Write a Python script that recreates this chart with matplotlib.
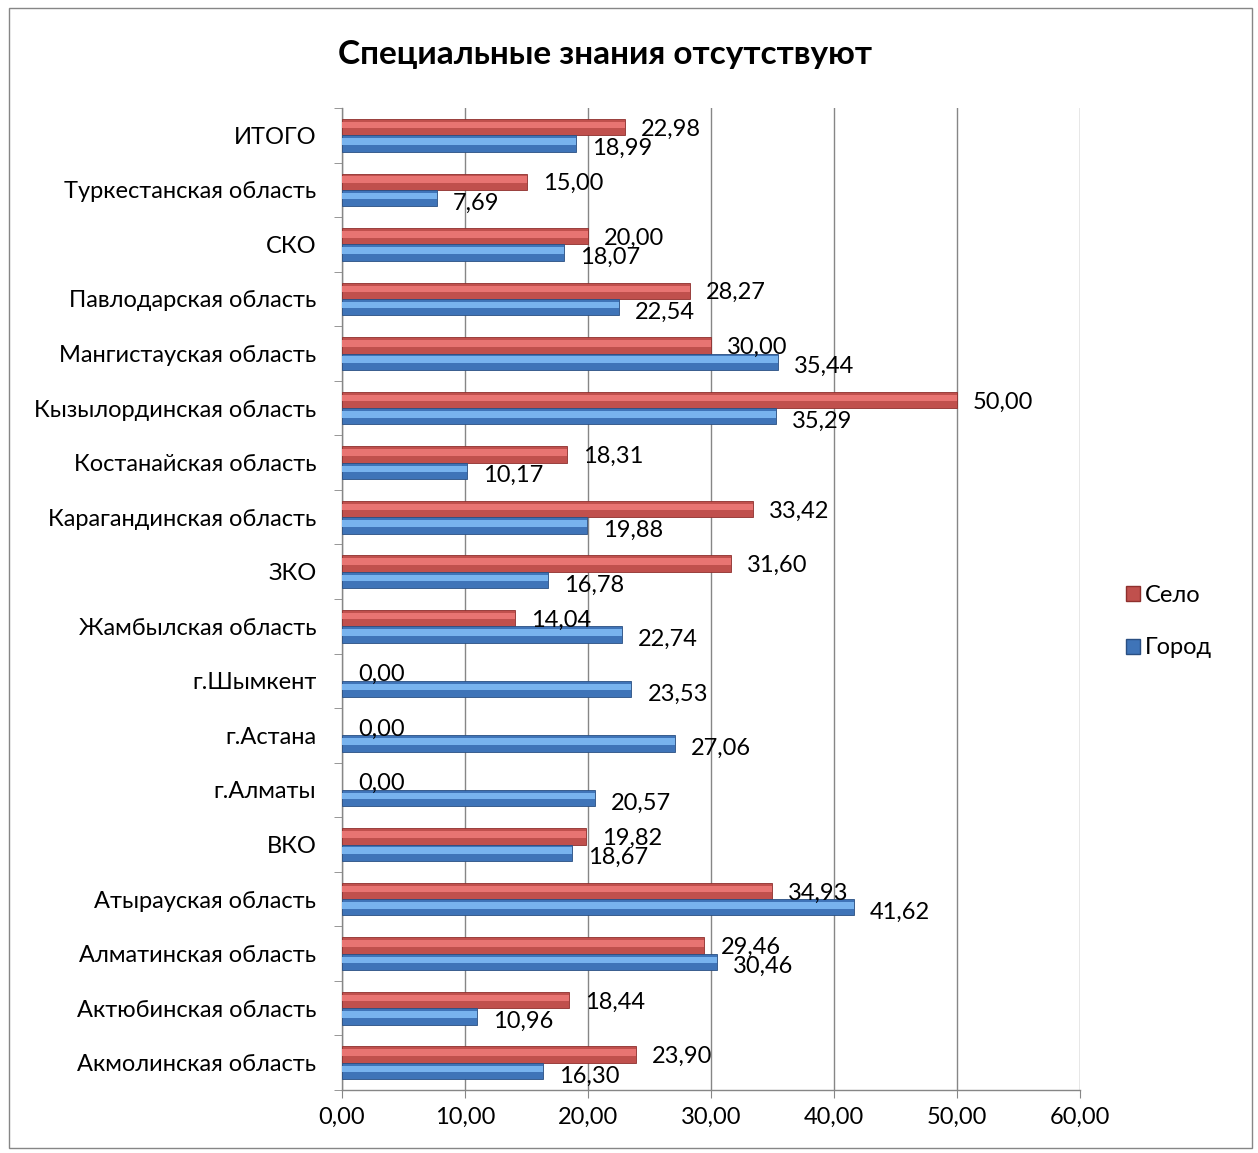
import matplotlib
matplotlib.use("Agg")
import matplotlib.pyplot as plt
from matplotlib.patches import Patch, Rectangle
import numpy as np

categories = ["ИТОГО", "Туркестанская область", "СКО", "Павлодарская область",
              "Мангистауская область", "Кызылординская область", "Костанайская область",
              "Карагандинская область", "ЗКО", "Жамбылская область", "г.Шымкент",
              "г.Астана", "г.Алматы", "ВКО", "Атырауская область", "Алматинская область",
              "Актюбинская область", "Акмолинская область"]
selo = [22.98, 15.00, 20.00, 28.27, 30.00, 50.00, 18.31, 33.42, 31.60, 14.04,
        0.00, 0.00, 0.00, 19.82, 34.93, 29.46, 18.44, 23.90]
gorod = [18.99, 7.69, 18.07, 22.54, 35.44, 35.29, 10.17, 19.88, 16.78, 22.74,
         23.53, 27.06, 20.57, 18.67, 41.62, 30.46, 10.96, 16.30]
x_ticks = [0, 10, 20, 30, 40, 50, 60]
title = "Специальные знания отсутствуют"

plt.rcParams['font.family'] = ['Lato', 'DejaVu Sans']
FS = 17

fig = plt.figure(figsize=(12.58, 11.53), dpi=100)
ax = fig.add_axes([0.2719, 0.0546, 0.5866, 0.8517])

n = len(categories)
y = np.arange(n)[::-1].astype(float)
h = 0.3

red_main, red_light, red_edge = "#C0504D", "#E87472", "#8E2F2D"
blue_main, blue_light, blue_edge = "#3F74B8", "#78B3EE", "#2A4F82"

lw_s = [0.6 if v > 0 else 0 for v in selo]
lw_g = [0.6 if v > 0 else 0 for v in gorod]
ax.barh(y + h / 2, selo, height=h, color=red_main, edgecolor=red_edge, linewidth=lw_s, zorder=3)
ax.barh(y + h / 2 + h * 0.12, selo, height=h * 0.4, color=red_light, linewidth=0, zorder=4)
ax.barh(y - h / 2, gorod, height=h, color=blue_main, edgecolor=blue_edge, linewidth=lw_g, zorder=3)
ax.barh(y - h / 2 + h * 0.12, gorod, height=h * 0.4, color=blue_light, linewidth=0, zorder=4)

fmt = lambda v: f"{v:.2f}".replace(".", ",")
for yi, v in zip(y, selo):
    ax.annotate(fmt(v), (v, yi + h / 2), xytext=(16, -2), textcoords="offset pixels",
                ha="left", va="center", fontsize=FS, zorder=5)
for yi, v in zip(y, gorod):
    ax.annotate(fmt(v), (v, yi - h / 2), xytext=(16, -5), textcoords="offset pixels",
                ha="left", va="center", fontsize=FS, zorder=5)

ax.set_xlim(0, 60)
ax.set_ylim(-0.5, n - 0.5)
ax.set_xticks(x_ticks)
ax.set_xticklabels([fmt(t) for t in x_ticks], fontsize=FS)
ax.set_yticks(y)
ax.set_yticklabels(categories, fontsize=FS)
ax.set_yticks(np.arange(-0.5, n, 1.0), minor=True)
ax.tick_params(axis="y", which="major", length=0, pad=18.5)
ax.tick_params(axis="y", which="minor", length=6, color="#868686", direction="out")
ax.tick_params(axis="x", which="major", length=6, color="#868686", direction="out", pad=6)
ax.grid(axis="x", color="#868686", linewidth=1.0, zorder=0)
for s in ["top", "right"]:
    ax.spines[s].set_visible(False)
for s in ["left", "bottom"]:
    ax.spines[s].set_color("#868686")
    ax.spines[s].set_linewidth(1.0)

fig.text(0.481, 0.953, title, ha="center", va="center", fontsize=24, fontweight="bold")

handles = [Patch(facecolor=red_main, edgecolor=red_edge, label="Село"),
           Patch(facecolor=blue_main, edgecolor=blue_edge, label="Город")]
fig.legend(handles=handles, loc="center left", bbox_to_anchor=(0.878, 0.461),
           frameon=False, fontsize=FS, handlelength=0.6, handleheight=0.6,
           handletextpad=0.2, labelspacing=1.35)

fig.patches.append(Rectangle((0.007, 0.004), 0.988, 0.989, transform=fig.transFigure,
                             fill=False, edgecolor="#868686", linewidth=1.0))

fig.savefig("out.png", dpi=100)
